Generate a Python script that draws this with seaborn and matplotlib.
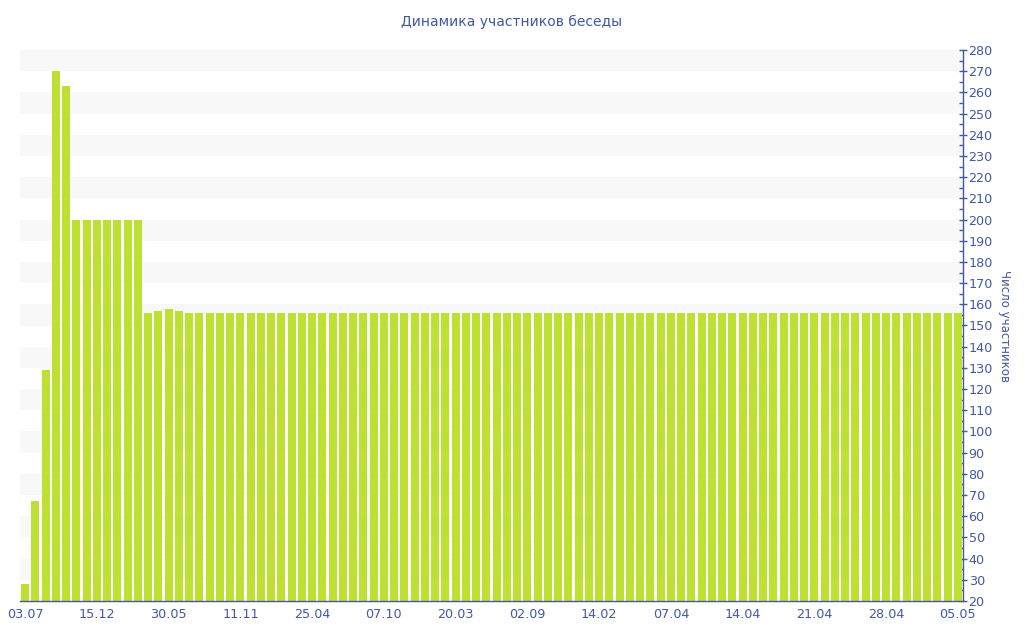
import matplotlib
matplotlib.use("Agg")
import matplotlib.pyplot as plt
import seaborn as sns
import pandas as pd
import numpy as np

sns.set_style("white")
plt.rcParams['font.family'] = ['DejaVu Sans']

title = "Динамика участников беседы"
y_label = "Число участников"

head_values = [28, 67, 129, 270, 263, 200, 200, 200, 200, 200, 200, 200, 156, 157, 158, 157]
tail_values = [156] * 76
values = head_values + tail_values

tick_labels = ["03.07", "15.12", "30.05", "11.11", "25.04", "07.10", "20.03",
               "02.09", "14.02", "07.04", "14.04", "21.04", "28.04", "05.05"]

df = pd.DataFrame({"idx": list(range(len(values))), "value": values})

blue = "#4258a0"
bar_color = "#bde032"

fig = plt.figure(figsize=(10.24, 6.4), dpi=100)
ax = fig.add_axes([20/1024, 39/640, 943/1024, 551/640])

ymin, ymax = 20, 280
for lo in range(30, 280, 20):
    ax.axhspan(lo, lo + 10, color="#f8f8f8", zorder=0, lw=0)

sns.barplot(data=df, x="idx", y="value", color=bar_color, width=0.78,
            saturation=1, ax=ax, zorder=2, native_scale=False)
for p in ax.patches:
    p.set_edgecolor("none")

ax.set_ylim(ymin, ymax)
ax.set_xlim(-0.5, len(values) - 0.5)

ax.yaxis.tick_right()
ax.yaxis.set_label_position("right")
ax.set_yticks(range(20, 281, 10))
ax.set_yticks(range(25, 281, 10), minor=True)
ax.tick_params(axis="y", which="major", direction="inout", length=6, width=1,
               colors=blue, labelsize=9.2, pad=1, labelcolor=blue)
ax.tick_params(axis="y", which="minor", direction="in", length=3, width=1, colors=blue)
ax.yaxis.set_tick_params(which="both", right=True, left=False)

pos = list(range(0, len(values), 7))
ax.set_xticks(pos)
ax.set_xticklabels(tick_labels)
ax.tick_params(axis="x", direction="out", length=4, width=1, colors=blue,
               labelsize=9.2, pad=1, labelcolor=blue)

ax.set_xlabel("")
ax.set_ylabel(y_label, rotation=270, color=blue, fontsize=8.5, labelpad=13)

for s in ["top", "left"]:
    ax.spines[s].set_visible(False)
for s in ["right", "bottom"]:
    ax.spines[s].set_color(blue)
    ax.spines[s].set_linewidth(1)

fig.text(512/1024, 1 - 22/640, title, ha="center", va="center", color=blue, fontsize=10)

fig.savefig("out.png", dpi=100)
